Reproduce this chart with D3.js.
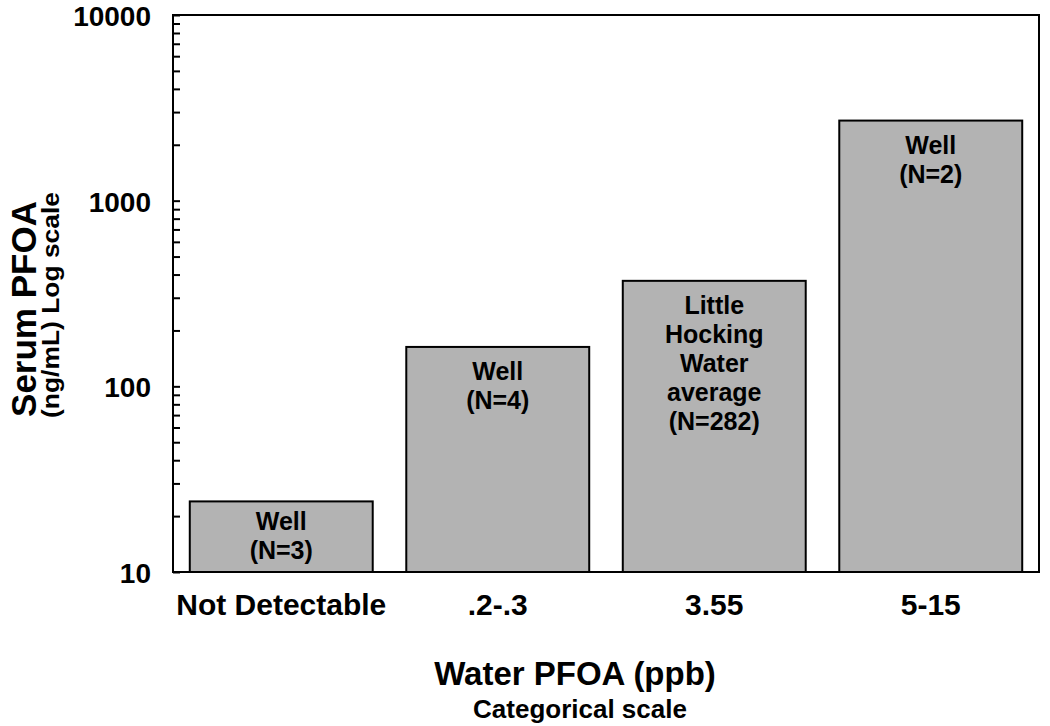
<!DOCTYPE html>
<html><head><meta charset="utf-8">
<script src="https://cdn.jsdelivr.net/npm/d3@7"></script>
<style>
html,body{margin:0;padding:0;background:#fff;}
text{font-family:"Liberation Sans",Arial,Helvetica,sans-serif;font-weight:bold;fill:#000;}
</style></head>
<body>
<svg id="chart" width="1050" height="726"></svg>
<script>
// ---- data ----
const categories = ["Not Detectable", ".2-.3", "3.55", "5-15"];
const serumValues = [24, 163, 370, 2700];
const barLabels = [["Well","(N=3)"],["Well","(N=4)"],["Little","Hocking","Water","average","(N=282)"],["Well","(N=2)"]];
const yTickValues = [10, 100, 1000, 10000];
const yTickLabels = ["10", "100", "1000", "10000"];

// ---- layout ----
const svg = d3.select("#chart");
const L = 173, R = 1039, T = 15, B = 572;

const x = d3.scaleBand().domain(categories).range([L, R]).paddingInner(0.155).paddingOuter(0.0775);
const y = d3.scaleLog().domain([10, 10000]).range([B, T]);

// bars
svg.append("g").selectAll("rect").data(serumValues).join("rect")
  .attr("x", (d,i) => x(categories[i]))
  .attr("y", d => y(d))
  .attr("width", x.bandwidth())
  .attr("height", d => B - y(d))
  .attr("fill", "#b3b3b3")
  .attr("stroke", "#000")
  .attr("stroke-width", 2);

// bar labels
const lineH = 29;
serumValues.forEach((v,i) => {
  const lines = barLabels[i];
  const top = y(v);
  const h = B - top;
  let first = top + 33;
  const blockH = (lines.length - 1) * lineH;
  if (first + blockH > B - 10) first = top + (h - blockH) / 2 + 8;
  const cx = x(categories[i]) + x.bandwidth()/2;
  const t = svg.append("text")
    .attr("x", cx).attr("y", first)
    .attr("text-anchor", "middle")
    .style("font-size", "25px");
  lines.forEach((s,k) => t.append("tspan")
    .attr("x", cx).attr("y", first + k*lineH).text(s));
});

// frame (top and right)
svg.append("path")
  .attr("d", `M${L},${T}H${R}V${B}`)
  .attr("fill","none").attr("stroke","#000").attr("stroke-width",2);

// y axis with minor ticks inside
const minor = [];
for (let dec = 10; dec < 10000; dec *= 10) for (let m = 1; m <= 9; m++) minor.push(dec*m);
minor.push(10000);
const yAxis = d3.axisRight(y).tickValues(minor).tickSize(7).tickFormat("");
const gy = svg.append("g").attr("transform", `translate(${L},0)`).call(yAxis);
gy.select(".domain").remove();
gy.selectAll(".tick line").attr("stroke","#000").attr("stroke-width",2);
svg.append("line").attr("x1",L).attr("x2",L).attr("y1",T-1).attr("y2",B+1)
  .attr("stroke","#000").attr("stroke-width",2);

// y tick labels
svg.append("g").selectAll("text").data(yTickValues).join("text")
  .attr("x", 151).attr("y", d => y(d) + 11)
  .attr("text-anchor","end").style("font-size","28px")
  .text((d,i) => yTickLabels[i]);

// x axis
const xAxis = d3.axisBottom(x).tickSize(0).tickPadding(0);
const gx = svg.append("g").attr("transform", `translate(0,${B})`).call(xAxis);
gx.select(".domain").remove();
svg.append("line").attr("x1",L-1).attr("x2",R+1).attr("y1",B).attr("y2",B)
  .attr("stroke","#000").attr("stroke-width",2);
gx.selectAll(".tick text")
  .attr("y", 43).attr("dy", null)
  .style("font-size","30px")
  .style("font-family",'"Liberation Sans",Arial,sans-serif')
  .style("font-weight","bold").attr("fill","#000");

// axis titles
svg.append("text").attr("x", 575).attr("y", 685).attr("text-anchor","middle")
  .style("font-size","33px").text("Water PFOA (ppb)");
svg.append("text").attr("x", 580).attr("y", 718).attr("text-anchor","middle")
  .style("font-size","26px").text("Categorical scale");
svg.append("text").attr("transform","translate(36,309) rotate(-90)").attr("text-anchor","middle")
  .style("font-size","35px").text("Serum PFOA");
svg.append("text").attr("transform","translate(59,305) rotate(-90)").attr("text-anchor","middle")
  .attr("textLength", 226).attr("lengthAdjust","spacingAndGlyphs")
  .style("font-size","23px").text("(ng/mL) Log scale");
</script>
</body></html>
